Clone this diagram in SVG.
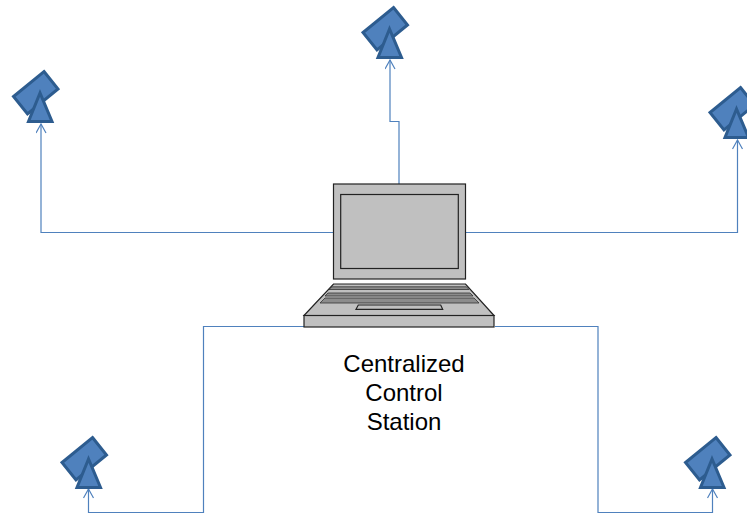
<svg xmlns="http://www.w3.org/2000/svg" width="747" height="514" viewBox="0 0 747 514">
<style>
.c{fill:none;stroke:#4f81bd;stroke-width:1.2;marker-end:url(#a)}
.s{fill:#4f81bd;stroke:#2d5c8f;stroke-width:3;stroke-linejoin:miter}
.l{fill:#c0c0c0;stroke:#222;stroke-width:1.2;stroke-linejoin:miter}
.d{fill:#8c8c8c;stroke:#333;stroke-width:.8}
.t{font-family:"Liberation Sans",Arial,sans-serif;font-size:24px;fill:#000;text-anchor:middle}
</style>
<defs>
<marker id="a" markerUnits="userSpaceOnUse" markerWidth="12" markerHeight="12" refX="10" refY="5.500" orient="auto">
<path d="M1 .5 L10 5.500 L1 10.500" fill="none" stroke="#4f81bd" stroke-width="1.200"/>
</marker>
<g id="sat">
<path class="s" d="M4 -18.500 L18 -1 L-12.500 24 L-26.500 6.500 Z"/>
<path class="s" d="M0 3 L-11.500 31.500 L12 31.500 Z"/>
</g>
</defs>
<g id="connectors">
<path class="c" d="M399 184 V121.500 H390 V60"/>
<path class="c" d="M333 232.500 H41 V124"/>
<path class="c" d="M466 232.500 H737.500 V140"/>
<path class="c" d="M304 326.500 H203.500 V512.500 H88.500 V489"/>
<path class="c" d="M495 326.500 H598 V512.500 H712.500 V489"/>
</g>
<g id="node-top"><use href="#sat" x="389.500" y="26"/></g>
<g id="node-left"><use href="#sat" x="40" y="90"/></g>
<g id="node-right"><use href="#sat" x="736.500" y="106"/></g>
<g id="node-bottom-left"><use href="#sat" x="88.500" y="456"/></g>
<g id="node-bottom-right"><use href="#sat" x="712" y="456"/></g>
<g id="laptop">
<rect class="l" x="333.500" y="184" width="132" height="95"/>
<rect class="l" x="340.700" y="194.500" width="117.600" height="74"/>
<path class="l" d="M333.500 284 H465.500 L494 315.500 H304 Z"/>
<path class="d" d="M332 286.800 H466.500 L469 289.500 H329 Z"/>
<path class="d" d="M328 293 H470 L473 296 H325 Z"/>
<path class="d" d="M325 298 H474 L479 303 H320 Z"/>
<rect class="l" x="304" y="315.500" width="190" height="11.500"/>
<path class="l" d="M358.300 305 H440.700 L442.700 309.300 H356 Z"/>
</g>
<g id="label">
<text class="t" x="404" y="372">Centralized</text>
<text class="t" x="404" y="401">Control</text>
<text class="t" x="404" y="430">Station</text>
</g>
</svg>
